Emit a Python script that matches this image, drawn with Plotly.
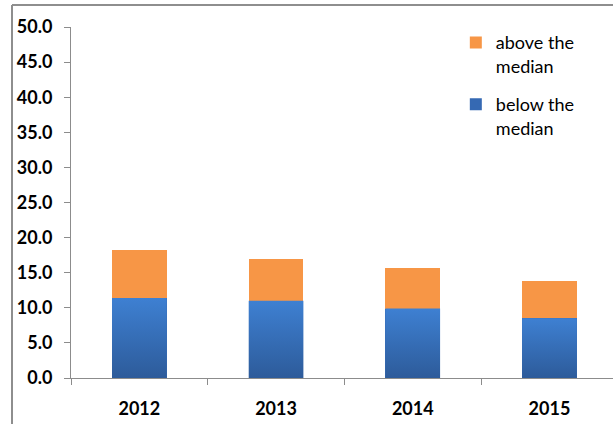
import plotly.graph_objects as go

# Share of observations by year, split at the median
years = ["2012", "2013", "2014", "2015"]
below_median = [11.4, 11.0, 9.9, 8.5]
above_median = [6.8, 6.0, 5.8, 5.3]

y_ticks = [0, 5, 10, 15, 20, 25, 30, 35, 40, 45, 50]
y_tick_text = [f"{v:.1f}" for v in y_ticks]

W, H = 613, 424
ML, MR, MT, MB = 71, 0, 27, 46
plot_w = W - ML - MR
plot_h = H - MT - MB
CAT_PX = 136.7          # pixels per category slot
BAR_W = 0.4             # bar width in category units

ORANGE = "#F79646"
BLUE_TOP = "#3E80D2"
BLUE_BOTTOM = "#2D5B9A"
BLUE_MID = "#3569B3"
AXIS_GREY = "#8C8C8C"
FONT = "Lato, Calibri, Carlito, sans-serif"

xpos = list(range(len(years)))

fig = go.Figure()
fig.add_trace(go.Bar(
    x=xpos, y=below_median, name="below the<br>median", width=BAR_W,
    marker=dict(color=BLUE_MID, line=dict(width=0)),
    legendgroup="b", legendrank=2,
))
fig.add_trace(go.Bar(
    x=xpos, y=above_median, name="above the<br>median", width=BAR_W,
    marker=dict(color=ORANGE, line=dict(width=0)),
    legendgroup="a", legendrank=1,
))

# Vertical gradient shading over each blue segment
for xi, b in zip(xpos, below_median):
    x0, x1 = xi - BAR_W / 2, xi + BAR_W / 2
    fig.add_trace(go.Scatter(
        x=[x0, x1, x1, x0, x0], y=[0, 0, b, b, 0],
        mode="lines", fill="toself", line=dict(width=0),
        fillgradient=dict(type="vertical",
                          colorscale=[[0, BLUE_BOTTOM], [1, BLUE_TOP]]),
        showlegend=False, hoverinfo="skip",
    ))

# Outer chart frame (top and left edges visible)
def px_to_paper_x(px):
    return (px - ML) / plot_w

def px_to_paper_y(py):
    return (H - MB - py) / plot_h

frame = dict(color="#8E8E8E", width=2)
fig.add_shape(type="line", xref="paper", yref="paper",
              x0=px_to_paper_x(12), x1=px_to_paper_x(W + 5),
              y0=px_to_paper_y(5), y1=px_to_paper_y(5), line=frame)
fig.add_shape(type="line", xref="paper", yref="paper",
              x0=px_to_paper_x(12), x1=px_to_paper_x(12),
              y0=px_to_paper_y(5), y1=px_to_paper_y(H + 5), line=frame)

boundaries = [i - 0.5 for i in range(len(years) + 1)]

fig.update_layout(
    width=W, height=H,
    margin=dict(l=ML, r=MR, t=MT, b=MB),
    barmode="stack",
    plot_bgcolor="white",
    paper_bgcolor="white",
    font=dict(family=FONT, color="black"),
    showlegend=True,
    legend=dict(
        x=0.71, y=1.008, xanchor="left", yanchor="top",
        traceorder="grouped",
        tracegroupgap=12,
        valign="top",
        font=dict(family=FONT, size=18, color="black"),
        bgcolor="rgba(0,0,0,0)",
        itemwidth=30,
    ),
    xaxis=dict(
        range=[-0.5, -0.5 + plot_w / CAT_PX],
        tickvals=xpos, ticktext=years,
        showline=True, linecolor=AXIS_GREY, linewidth=1,
        ticks="", ticklabelstandoff=14,
        minor=dict(tickvals=boundaries, ticks="outside", ticklen=6,
                   tickcolor=AXIS_GREY, tickwidth=1, showgrid=False),
        tickfont=dict(family=FONT, size=18, color="black", weight="bold"),
        showgrid=False, zeroline=False,
    ),
    yaxis=dict(
        range=[0, 50],
        tickvals=y_ticks, ticktext=y_tick_text,
        showline=True, linecolor=AXIS_GREY, linewidth=1,
        ticks="outside", ticklen=6, tickcolor=AXIS_GREY, tickwidth=1,
        ticklabelstandoff=8,
        tickfont=dict(family=FONT, size=18, color="black", weight="bold"),
        showgrid=False, zeroline=False,
    ),
)

fig.write_html("out.html")
